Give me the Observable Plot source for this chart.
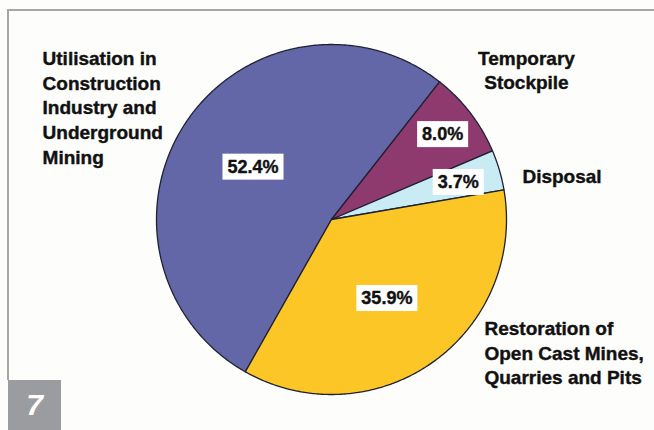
<!DOCTYPE html>
<html><head><meta charset="utf-8">
<script src="https://cdn.jsdelivr.net/npm/d3@7"></script>
<script src="https://cdn.jsdelivr.net/npm/@observablehq/plot@0.6"></script>
<style>
body{margin:0;background:#fdfdfb;}
#wrap{position:relative;width:654px;height:430px;overflow:hidden;font-family:"Liberation Sans",Arial,sans-serif;}
#chart{position:absolute;left:0;top:0;}
.frameTop{position:absolute;left:7px;top:9px;width:647px;height:2px;background:#a6a6a6;}
.frameLeft{position:absolute;left:7px;top:9px;width:2px;height:371px;background:#a6a6a6;}
.badge{position:absolute;left:8px;top:380px;width:53px;height:50px;background:#9b9ca0;color:#fff;font:italic bold 30px "Liberation Sans",Arial,sans-serif;display:flex;align-items:center;justify-content:center;}
</style></head><body>
<div id="wrap"><div class="frameTop"></div><div class="frameLeft"></div><div id="chart"></div><div class="badge">7</div></div>
<script>
// ---- data ----
const categories = [
  "Utilisation in\nConstruction\nIndustry and\nUnderground\nMining",
  "Temporary\nStockpile",
  "Disposal",
  "Restoration of\nOpen Cast Mines,\nQuarries and Pits"
];
const values = [52.4, 8.0, 3.7, 35.9];
const percentLabels = ["52.4%", "8.0%", "3.7%", "35.9%"];

// ---- style / layout ----
const colors = ["#6366a7", "#8e3a6f", "#c9ebf3", "#fdc627"];
const startDeg = 209.5;
const pctRadius = [0.54, 0.80, 0.755, 0.55];
const namePos = [[-1.651, 0.646, "start"], [1.114, 0.86, "middle"], [1.091, 0.251, "start"], [0.874, -0.755, "start"]];

const a0 = startDeg * Math.PI / 180;
const arcs = d3.pie().sort(null).value(d => d).startAngle(a0).endAngle(a0 + 2 * Math.PI)(values);

const slicePts = [];
arcs.forEach((a, i) => {
  const cat = categories[i];
  slicePts.push({cat, x: 0, y: 0});
  const n = Math.max(2, Math.ceil((a.endAngle - a.startAngle) / 0.01));
  for (let k = 0; k <= n; k++) {
    const t = a.startAngle + (a.endAngle - a.startAngle) * k / n;
    slicePts.push({cat, x: Math.sin(t), y: Math.cos(t)});
  }
  slicePts.push({cat, x: 0, y: 0});
});

const pctData = arcs.map((a, i) => {
  const m = (a.startAngle + a.endAngle) / 2;
  return {label: percentLabels[i], x: pctRadius[i] * Math.sin(m), y: pctRadius[i] * Math.cos(m)};
});
const nameData = categories.map((c, i) => ({label: c, x: namePos[i][0], y: namePos[i][1], anchor: namePos[i][2]}));

const chart = Plot.plot({
  width: 654, height: 430, margin: 0,
  x: {domain: [-1, 1], range: [156, 506], axis: null},
  y: {domain: [-1, 1], range: [394, 44], axis: null},
  color: {domain: categories, range: colors},
  style: {background: "transparent", fontFamily: "'Liberation Sans', Arial, sans-serif"},
  marks: [
    Plot.line(slicePts, {x: "x", y: "y", z: "cat", fill: "cat", stroke: "#1e2233", strokeWidth: 1.3, strokeLinejoin: "round"}),
    Plot.text(pctData, {x: "x", y: "y", text: "label", fontSize: 18, fontWeight: "bold", fill: "#111", stroke: "#111", strokeWidth: 0.4}),
    ...nameData.map(d => Plot.text([d], {x: "x", y: "y", text: "label", textAnchor: d.anchor, lineAnchor: "middle", lineHeight: 1.3, fontSize: 19, fontWeight: "bold", fill: "#111", stroke: "#111", strokeWidth: 0.4}))
  ]
});
document.getElementById("chart").appendChild(chart);

// white boxes behind percentage labels
const pctGroup = chart.querySelectorAll('g[aria-label="text"]')[0];
pctGroup.querySelectorAll("text").forEach(t => {
  const b = t.getBBox();
  const r = document.createElementNS("http://www.w3.org/2000/svg", "rect");
  r.setAttribute("x", b.x - 5);
  r.setAttribute("y", b.y - 3);
  r.setAttribute("width", b.width + 10);
  r.setAttribute("height", b.height + 6);
  r.setAttribute("fill", "#fff");
  r.setAttribute("stroke", "none");
  const tr = t.getAttribute("transform");
  if (tr) r.setAttribute("transform", tr);
  t.parentNode.insertBefore(r, t);
});
</script>
</body></html>
